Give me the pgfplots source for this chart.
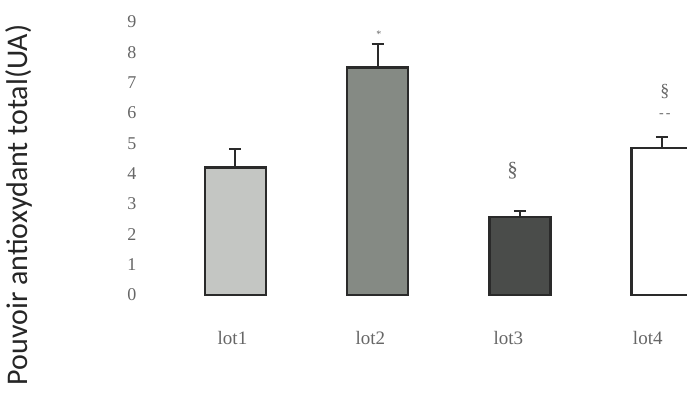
\documentclass[border=0pt]{standalone}
\usepackage{pgfplots}
\pgfplotsset{compat=1.18}
\usepackage{fontspec}
\setmainfont{Liberation Serif}
\newfontfamily\labfont{Carlito}
\definecolor{tickgray}{HTML}{666666}
\definecolor{fillA}{HTML}{C4C6C3}
\definecolor{fillB}{HTML}{858A84}
\definecolor{fillC}{HTML}{4A4C4A}
\definecolor{edge}{HTML}{2A2A2A}
\begin{document}
\begin{tikzpicture}
\path[use as bounding box] (0pt,0pt) rectangle (687pt,400pt);
\begin{axis}[
  at={(150pt,105pt)}, anchor=south west,
  scale only axis, width=537pt, height=273pt,
  xmin=-0.6, xmax=3.176, ymin=0, ymax=9,
  ytick={0,...,9},
  xtick={-0.02,0.95,1.92,2.9},
  xticklabels={lot1,lot2,lot3,lot4},
  major tick length=0pt,
  yticklabel style={font=\fontsize{18}{18}\selectfont, text=tickgray, anchor=east, xshift=-10pt},
  xticklabel style={font=\fontsize{19}{19}\selectfont, text=tickgray, anchor=center, yshift=-43pt},
  /pgf/number format/assume math mode=true,
  axis line style={draw=none},
  ybar, bar width=61pt, bar shift=0pt,
  clip=true,
  every axis plot/.append style={draw=edge, line width=2.6pt},
  error bars/error bar style={line width=2pt, draw=edge},
  error bars/error mark options={line width=2pt, mark size=6pt, draw=edge, rotate=90},
]
\addplot[fill=fillA, error bars/.cd, y dir=plus, y explicit]
  coordinates {(0,4.2) +- (0,0.6)};
\addplot[fill=fillB, error bars/.cd, y dir=plus, y explicit]
  coordinates {(1,7.5) +- (0,0.76)};
\addplot[fill=fillC, error bars/.cd, y dir=plus, y explicit]
  coordinates {(2,2.57) +- (0,0.2)};
\addplot[fill=white, error bars/.cd, y dir=plus, y explicit]
  coordinates {(3,4.85) +- (0,0.35)};
\node[text=tickgray, font=\fontsize{10}{10}\selectfont] at (axis cs:1.01,8.6) {*};
\node[text=tickgray, font=\fontsize{21}{21}\selectfont] at (axis cs:1.95,4.1) {\S};
\node[text=tickgray, font=\fontsize{18}{18}\selectfont] at (axis cs:3.02,6.7) {\S};
\node[text=tickgray, font=\fontsize{14}{14}\selectfont] at (axis cs:3.02,5.9) {-\,-};
\end{axis}
\node[rotate=90, font=\labfont\fontsize{30}{30}\selectfont, text=black!85] at (19pt,195pt) {Pouvoir antioxydant total(UA)};
\end{tikzpicture}
\end{document}
